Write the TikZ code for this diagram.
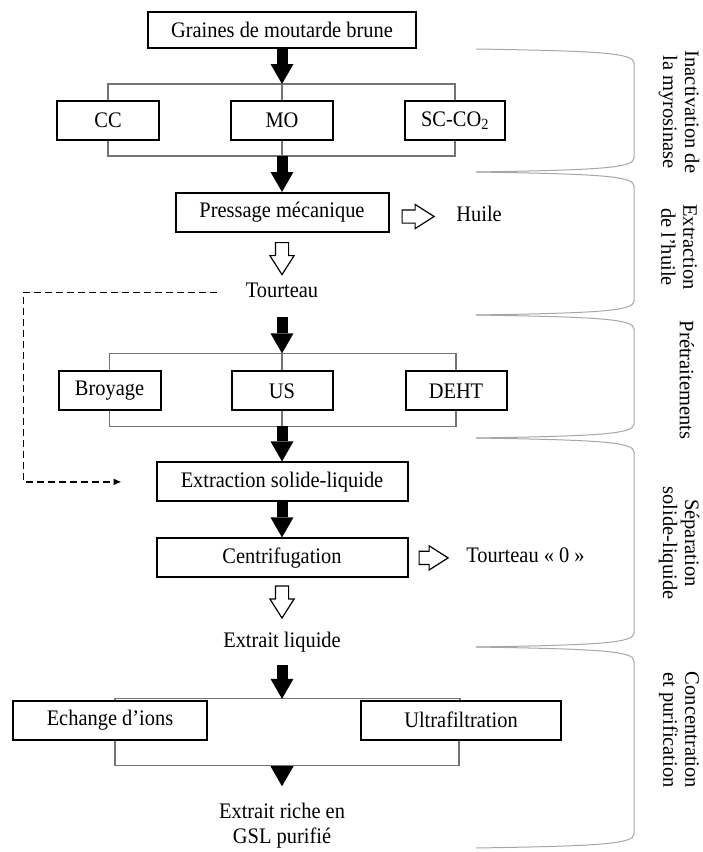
\documentclass[tikz,border=0pt]{standalone}
\usepackage{fontspec}
\setmainfont{Liberation Serif}[FakeStretch=0.92]
\newfontfamily\phasefont{Liberation Serif}
\usetikzlibrary{arrows.meta, positioning, shapes.arrows}

\begin{document}
\begin{tikzpicture}[
    x=1pt, y=-1pt,
    font=\fontsize{22.2}{25}\selectfont,
    box/.style={draw, line width=2pt, inner sep=0pt, minimum height=39pt, minimum width=102pt},
    txt/.style={inner sep=0pt, text height=14pt, text depth=4pt},
    link/.style={draw=black!55, line width=1.1pt},
    blk/.style={line width=11pt, -{Triangle[width=23pt, length=20pt, line width=0pt]}},
    warrow/.style={single arrow, draw, line width=1.2pt, fill=white, inner xsep=0pt, inner ysep=6pt,
      single arrow head extend=5.5pt, single arrow tip angle=65, minimum height=32pt},
    recycle/.style={dash pattern=on 7pt off 4pt, line width=1.4pt, -{Latex[length=8pt, width=7pt]}},
    phase/.style={draw=black!35, line width=1pt},
    phlabel/.style={rotate=-90, align=center, font=\phasefont\fontsize{20.5}{22}\selectfont}
]
  \useasboundingbox (0,0) rectangle (703,852);

  % inactivation
  \node[box, minimum height=36pt, minimum width=268pt] (graines) at (282,30) {Graines de moutarde brune};
  \node[box, below=51pt of graines] (mo) {MO};
  \node[box, left=70pt of mo] (cc) {CC};
  \node[box, minimum width=100pt, right=70pt of mo] (sc) {SC-CO\textsubscript{2}};

  \draw[link] (cc.north) -- ++(0,-16) -| (sc.north);
  \draw[link] (mo.north) -- ++(0,-16);
  \draw[link] (cc.south) -- ++(0,15) -| (sc.south);
  \draw[link] (mo.south) -- ++(0,15);
  \draw[blk] (graines) -- ([yshift=16pt]mo.north);

  % pressing
  \node[box, minimum width=213pt, below=51pt of mo] (pressage) {Pressage mécanique};
  \draw[blk] ([yshift=-15pt]mo.south) -- (pressage);
  \node[warrow, anchor=tail] (wr1) at ([xshift=12pt, yshift=-4pt]pressage.east) {};
  \node[txt, right=21pt of wr1.tip] (huile) {Huile};
  \node[warrow, rotate=-90, anchor=tail] (wd1) at ([yshift=-9pt]pressage.south) {};
  \node[txt, below=50pt of pressage] (tourteau) {Tourteau};

  % pretreatment
  \node[box, minimum width=101pt, below=69pt of tourteau] (us) {US};
  \node[box, left=69pt of us] (broyage) {Broyage};
  \node[box, minimum width=101pt, right=71pt of us] (deht) {DEHT};

  \draw[link] (broyage.north) -- ++(0,-17) -| (deht.north);
  \draw[link] (us.north) -- ++(0,-17);
  \draw[link] (broyage.south) -- ++(0,15) -| (deht.south);
  \draw[link] (us.south) -- ++(0,15);
  \draw[blk, shorten <=16pt] (tourteau) -- ([yshift=17pt]us.north);

  % extraction
  \node[box, minimum width=251pt, below=50pt of us] (extraction) {Extraction solide-liquide};
  \draw[blk] ([yshift=-15pt]us.south) -- (extraction);
  \draw[recycle] ([xshift=-29pt]tourteau.west) -- ++(-193,0) |- ([xshift=-34pt]extraction.west);

  \node[box, minimum width=251pt, below=35pt of extraction] (centri) {Centrifugation};
  \draw[blk] (extraction) -- (centri);
  \node[warrow, minimum height=29pt, anchor=tail] (wr2) at ([xshift=10pt]centri.east) {};
  \node[txt, right=17pt of wr2.tip] (tourteau0) {Tourteau « 0 »};
  \node[warrow, rotate=-90, anchor=tail] (wd2) at ([yshift=-7pt]centri.south) {};
  \node[txt, below=55pt of centri] (liquide) {Extrait liquide};

  % purification
  \coordinate[below=47pt of liquide] (j5);
  \coordinate[below=67pt of j5] (k5);
  \node[box, minimum width=194pt] (echange) at (110,720) {Echange d’ions};
  \node[box, minimum width=200pt] (ultra) at (461,720) {Ultrafiltration};

  \draw[link] ([xshift=5pt]echange.north) |- (j5) -| ([xshift=-1pt]ultra.north);
  \draw[link] ([xshift=5pt]echange.south) |- (k5) -| ([xshift=-2pt]ultra.south);
  \draw[blk, shorten <=13pt] (liquide) -- (j5);

  \node[inner sep=0pt, align=center] (final) at (282,826) {Extrait riche en\\GSL purifié};
  \draw[blk, shorten >=17pt] (k5) -- (final);

  % phases
  \draw[phase] (476,49) .. controls (600,51) and (634,53) .. (634,63) -- (634,158) .. controls (634,168) and (600,170) .. (476,172);
  \draw[phase] (476,172) .. controls (600,174) and (634,176) .. (634,186) -- (634,301) .. controls (634,311) and (600,313) .. (476,315);
  \draw[phase] (476,315) .. controls (600,317) and (634,319) .. (634,329) -- (634,424) .. controls (634,434) and (600,436) .. (476,438);
  \draw[phase] (476,438) .. controls (600,440) and (634,442) .. (634,452) -- (634,633) .. controls (634,643) and (600,645) .. (476,647);
  \draw[phase] (476,647) .. controls (600,649) and (634,651) .. (634,661) -- (634,834) .. controls (634,844) and (600,846) .. (476,848);

  \node[phlabel] (phinact) at (679,112) {Inactivation de\\la myrosinase};
  \node[phlabel] (phextr) at (679,247) {Extraction\\de l’huile};
  \node[phlabel] (phpret) at (687,380) {Prétraitements};
  \node[phlabel] (phsep) at (679,543) {Séparation\\solide-liquide};
  \node[phlabel] (phconc) at (679,730) {Concentration\\et purification};
\end{tikzpicture}
\end{document}
